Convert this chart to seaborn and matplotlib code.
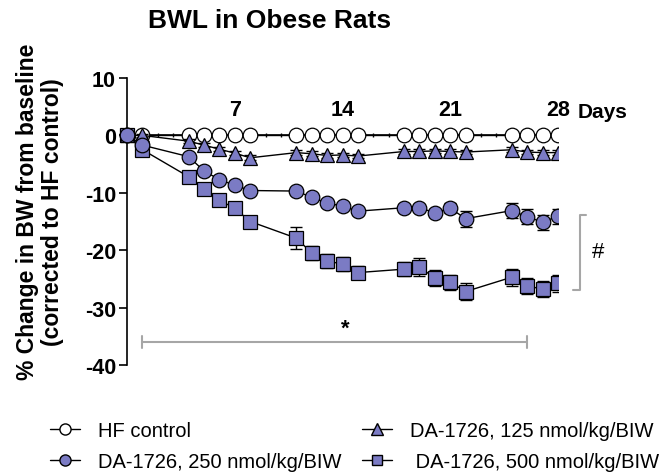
import matplotlib
matplotlib.use("Agg")
import matplotlib.pyplot as plt
import pandas as pd
import seaborn as sns
from matplotlib.lines import Line2D

sns.set_theme(style="ticks")
plt.rcParams['font.family'] = ['Liberation Sans', 'DejaVu Sans']
plt.rcParams['axes.unicode_minus'] = False
plt.rcParams['text.color'] = 'black'
plt.rcParams['xtick.color'] = 'black'
plt.rcParams['ytick.color'] = 'black'

days = [0, 1, 4, 5, 6, 7, 8, 11, 12, 13, 14, 15, 18, 19, 20, 21, 22, 25, 26, 27, 28]
hf_control = [0] * 21
dose_125 = [0, 0, -1.0, -1.7, -2.4, -3.1, -3.9, -3.0, -3.2, -3.5, -3.4, -3.6,
            -2.8, -2.8, -2.7, -2.8, -2.9, -2.5, -2.9, -3.0, -3.0]
dose_250 = [0, -1.7, -3.7, -6.2, -7.7, -8.7, -9.6, -9.7, -10.8, -11.8, -12.3, -13.2,
            -12.6, -12.6, -13.5, -12.7, -14.5, -13.1, -14.2, -15.1, -14.1]
dose_500 = [0, -2.5, -7.2, -9.3, -11.3, -12.7, -15.0, -17.9, -20.5, -21.9, -22.4, -23.9,
            -23.3, -22.9, -24.9, -25.6, -27.2, -24.7, -26.2, -26.8, -25.8]
sem_125 = [0, 0.2, 0.3, 0.3, 0.3, 0.3, 0.4, 0.4, 0.4, 0.4, 0.4, 0.4,
           0.4, 0.4, 0.4, 0.4, 0.4, 0.4, 0.4, 0.4, 0.4]
sem_250 = [0, 0.3, 0.4, 0.4, 0.5, 0.5, 0.5, 0.6, 0.6, 0.6, 0.6, 0.6,
           0.7, 0.7, 0.7, 0.9, 1.4, 1.3, 1.3, 1.3, 1.3]
sem_500 = [0, 0.4, 0.5, 0.6, 0.6, 0.7, 0.7, 1.9, 1.2, 1.2, 1.2, 1.1,
           1.2, 1.6, 1.4, 1.3, 1.4, 1.5, 1.4, 1.4, 1.4]

labels = ["HF control", "DA-1726, 125 nmol/kg/BIW",
          "DA-1726, 250 nmol/kg/BIW", "DA-1726, 500 nmol/kg/BIW"]

purple = "#7b7bc4"

df = pd.DataFrame({
    "day": days * 4,
    "value": hf_control + dose_125 + dose_250 + dose_500,
    "sem": [0] * 21 + sem_125 + sem_250 + sem_500,
    "group": [g for g in labels for _ in days],
})

fig = plt.figure(figsize=(6.63, 4.77), dpi=100)
ax = fig.add_axes([104 / 663, 111 / 477, 454 / 663, 287 / 477])

styles = {
    labels[0]: dict(marker="o", fill="white", ms=10.5, z=3),
    labels[1]: dict(marker="^", fill=purple, ms=10, z=5),
    labels[2]: dict(marker="o", fill=purple, ms=10.5, z=6),
    labels[3]: dict(marker="s", fill=purple, ms=9.5, z=4),
}

for g in labels:
    sub = df[df.group == g]
    st = styles[g]
    ax.errorbar(sub.day, sub.value, yerr=sub["sem"], fmt="none", ecolor="black",
                elinewidth=1, capsize=4, capthick=1, zorder=st["z"] - 0.5)
    sns.lineplot(data=sub, x="day", y="value", ax=ax, color="black", linewidth=1,
                 marker=st["marker"], markersize=st["ms"], markerfacecolor=st["fill"],
                 markeredgecolor="black", markeredgewidth=0.9, zorder=st["z"],
                 errorbar=None, legend=False)

ax.set_xlim(-1.5, 28)
ax.set_ylim(-40, 10)
ax.set_xlabel("")
ax.set_ylabel("")

# axes: y spine at day 0, x axis at y = 0 with labels above
ax.spines["left"].set_position(("data", 0))
ax.spines["top"].set_position(("data", 0))
ax.spines["top"].set_bounds(0, 28)
ax.spines["right"].set_visible(False)
ax.spines["bottom"].set_visible(False)
for s in ["left", "top"]:
    ax.spines[s].set_linewidth(1.2)
    ax.spines[s].set_color("black")
ax.xaxis.tick_top()
ax.set_xticks([7, 14, 21, 28])
ax.set_xticks(range(0, 29), minor=True)
ax.tick_params(axis="x", which="major", length=0, pad=11, labelsize=15.5)
ax.tick_params(axis="x", which="minor", length=3, width=1, direction="inout")
ax.set_yticks([10, 0, -10, -20, -30, -40])
ax.tick_params(axis="y", length=6, width=1.2, labelsize=15.5, pad=2)
for t in ax.get_xticklabels() + ax.get_yticklabels():
    t.set_fontweight("bold")

ax.text(29.3, 4.2, "Days", fontsize=15, fontweight="bold", va="center", ha="left",
        clip_on=False)

# significance brackets
gray = "#a6a6a6"
ax.plot([1, 26], [-36, -36], color=gray, lw=1.5, clip_on=False)
ax.plot([1, 1], [-35, -37], color=gray, lw=1.5, clip_on=False)
ax.plot([26, 26], [-35, -37], color=gray, lw=1.5, clip_on=False)
ax.text(14.2, -33.6, "*", fontsize=16, fontweight="bold", ha="center", va="center")
ax.plot([29.8, 29.4, 29.4, 28.95], [-13.8, -13.8, -27.0, -27.0], color=gray, lw=1.5,
        clip_on=False)
ax.text(30.6, -20.2, "#", fontsize=16, ha="center", va="center")

fig.text(270 / 663, 1 - 21 / 477, "BWL in Obese Rats", fontsize=19,
         fontweight="bold", ha="center", va="center")
fig.text(40 / 663, 1 - 212 / 477,
         "% Change in BW from baseline\n(corrected to HF control)",
         rotation=90, fontsize=16.5, fontweight="bold", ha="center", va="center",
         multialignment="center", linespacing=1.15)

handles = [
    Line2D([], [], color="black", lw=1, marker="o", ms=8, mfc="white", mec="black"),
    Line2D([], [], color="black", lw=1, marker="o", ms=8, mfc=purple, mec="black"),
    Line2D([], [], color="black", lw=1, marker="^", ms=8, mfc=purple, mec="black"),
    Line2D([], [], color="black", lw=1, marker="s", ms=7.5, mfc=purple, mec="black"),
]
leg_labels = [labels[0], labels[2], labels[1], " " + labels[3]]
fig.legend(handles, leg_labels, ncol=2, loc="center left",
           bbox_to_anchor=(50 / 663, 1 - 447 / 477), frameon=False, fontsize=14.5,
           handlelength=1.5, handletextpad=0.9, columnspacing=1.0,
           labelspacing=0.6, borderpad=0, borderaxespad=0)

fig.savefig("out.png", dpi=100)
